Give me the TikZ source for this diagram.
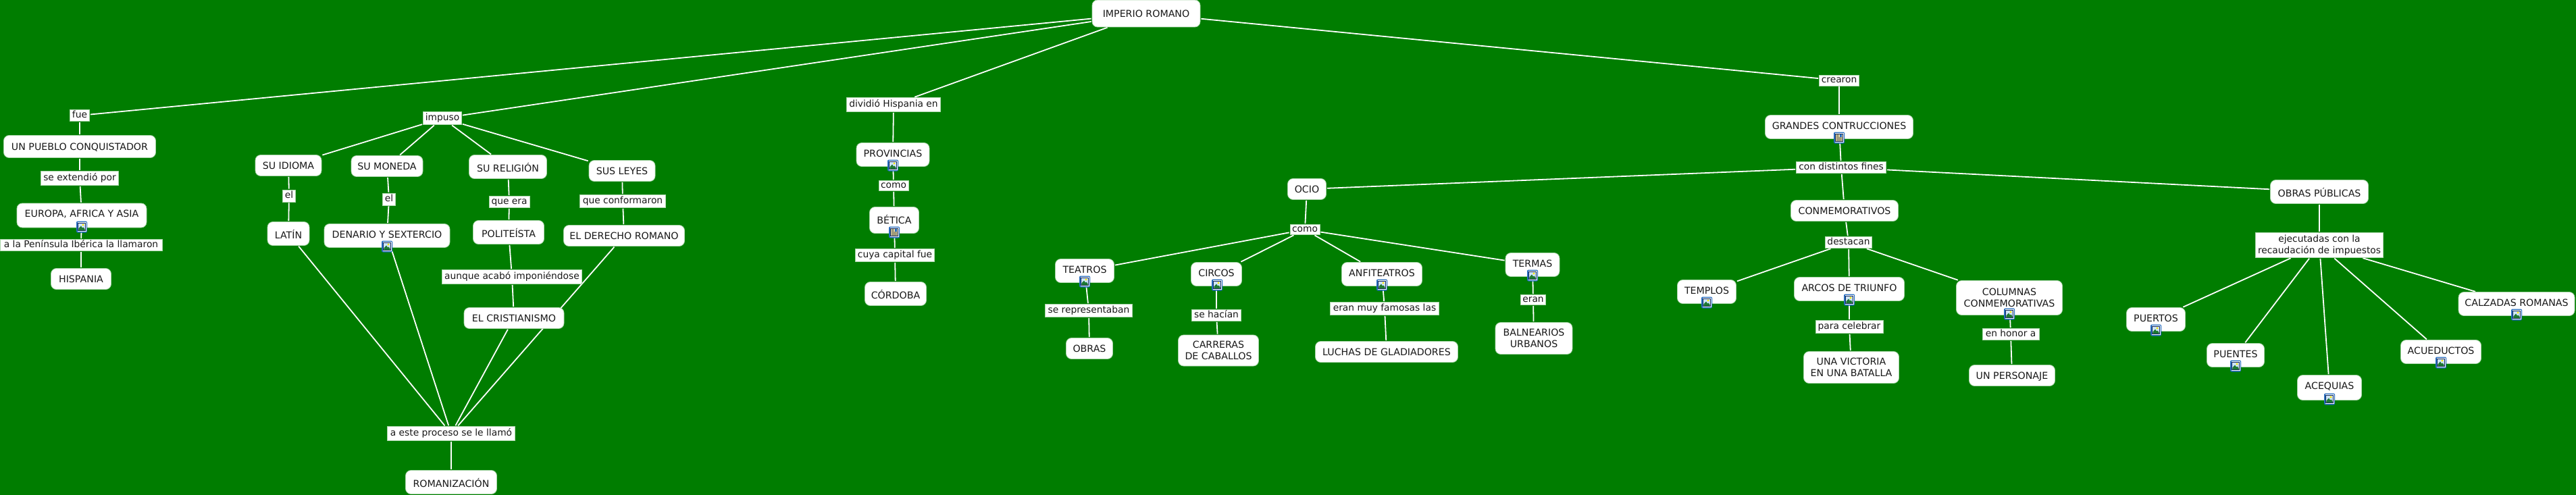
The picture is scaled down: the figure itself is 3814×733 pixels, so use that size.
\documentclass[tikz,border=0pt]{standalone}
\usepackage{fontspec}
\setmainfont{DejaVu Sans}
\usetikzlibrary{backgrounds}
\definecolor{mapgreen}{RGB}{0,125,0}
\definecolor{mapedge}{RGB}{170,214,170}
\definecolor{iconblue}{RGB}{38,108,190}
\definecolor{iconnavy}{RGB}{20,40,90}
\definecolor{iconsky}{RGB}{205,228,248}
\definecolor{iconhill}{RGB}{30,120,50}
\definecolor{iconpaper}{RGB}{250,240,190}
\tikzset{
	boxsize/.style 2 args={minimum width=#1pt,minimum height=#2pt},
	mapbox/.style={rectangle,rounded corners=8pt,fill=white,draw=mapedge,line width=0.8pt,inner sep=0pt,align=center,
		font=\fontsize{14.2}{17}\selectfont,text=black!90},
	concept/.style={mapbox,text height=10.4pt,text depth=0pt},
	iconbox/.style={concept,text depth=3pt},
	accentbox/.style={concept,text height=15.6pt},
	tworow/.style={mapbox},
	phrase/.style={rectangle,fill=white,draw=mapedge,line width=0.8pt,inner sep=0pt,align=center,
		font=\fontsize{13.8}{17}\selectfont,text=black!90,text height=10.4pt,text depth=2.6pt},
	phrasetwo/.style={rectangle,fill=white,draw=mapedge,line width=0.8pt,inner sep=0pt,align=center,
		font=\fontsize{13.8}{17}\selectfont,text=black!90},
	link/.style={draw=white,line width=1.8pt,shorten <=1pt,shorten >=1pt},
	pics/photoicon/.style={code={
		\fill[iconblue,rounded corners=2pt] (-8,-8.5) rectangle (8,8.5);
		\fill[white] (-6.5,-7) rectangle (6.5,7);
		\fill[iconsky,draw=iconnavy,line width=0.9pt] (-5.2,-5.7) rectangle (5.2,5.7);
		\fill[yellow!90!orange] (2,-3) circle (1.6pt);
		\fill[iconhill] (-4.7,5.2) -- (-4.7,2.5) -- (-1,-1.5) -- (1,1.5) -- (2.5,0.5) -- (4.7,3.5) -- (4.7,5.2) -- cycle;
	}},
	pics/papericon/.style={code={
		\fill[iconblue,rounded corners=2pt] (-8,-8.5) rectangle (8,8.5);
		\fill[white] (-6.5,-7) rectangle (6.5,7);
		\fill[iconpaper,draw=iconnavy,line width=0.9pt] (-5.2,-5.7) rectangle (5.2,5.7);
		\fill[iconblue] (0.5,-4.8) rectangle (4.4,-0.8);
		\fill[black] (-4.3,-4.4) rectangle (-0.5,-3.6) (-4.3,-2.4) rectangle (-0.5,-1.6) (-4.3,-0.4) rectangle (4.3,0.4) (-4.3,1.6) rectangle (4.3,2.4) (-4.3,3.6) rectangle (4.3,4.4);
	}}
}
\begin{document}
\begin{tikzpicture}[x=1pt,y=-1pt]
\useasboundingbox (0,0) rectangle (3814,733);

\node[concept,boxsize={160}{40}] (imperio) at (1697,20) {IMPERIO ROMANO};

\node[phrase,boxsize={29}{17}] (fue) at (118,171) {fue};
\node[concept,boxsize={225}{33}] (pueblo) at (118,217) {UN PUEBLO CONQUISTADOR};
\node[phrase,boxsize={115}{21}] (extendio) at (118,264) {se extendió por};
\node[iconbox,text depth=6pt,boxsize={192}{36}] (europa) at (121,319) {EUROPA, AFRICA Y ASIA};
\node[phrase,boxsize={240}{17}] (llamaron) at (120,363) {a la Península Ibérica la llamaron};
\node[concept,boxsize={89}{31}] (hispania) at (120,413) {HISPANIA};

\node[phrase,boxsize={57}{19}] (impuso) at (655,175) {impuso};
\node[concept,boxsize={98}{31}] (idioma) at (427,245) {SU IDIOMA};
\node[concept,boxsize={106}{31}] (moneda) at (573,246) {SU MONEDA};
\node[accentbox,boxsize={115}{35}] (religion) at (752,247) {SU RELIGIÓN};
\node[concept,boxsize={98}{31}] (leyes) at (921,253) {SUS LEYES};
\node[phrase,boxsize={19}{18}] (elidioma) at (428,290) {el};
\node[phrase,boxsize={19}{18}] (elmoneda) at (576,295) {el};
\node[phrase,boxsize={60}{17}] (queera) at (754,299) {que era};
\node[phrase,boxsize={127}{19}] (conformaron) at (922,298) {que conformaron};
\node[accentbox,boxsize={62}{35}] (latin) at (427,346) {LATÍN};
\node[iconbox,boxsize={186}{35}] (denario) at (573,349) {DENARIO Y SEXTERCIO};
\node[accentbox,boxsize={105}{35}] (politeista) at (753,344) {POLITEÍSTA};
\node[concept,boxsize={179}{31}] (derecho) at (924,349) {EL DERECHO ROMANO};
\node[phrase,boxsize={207}{21}] (aunque) at (758,410) {aunque acabó imponiéndose};
\node[concept,boxsize={148}{31}] (cristianismo) at (761,471) {EL CRISTIANISMO};
\node[phrase,boxsize={189}{21}] (proceso) at (668,642) {a este proceso se le llamó};
\node[accentbox,boxsize={135}{35}] (romanizacion) at (668,714) {ROMANIZACIÓN};

\node[phrase,boxsize={139}{21}] (dividio) at (1323,155) {dividió Hispania en};
\node[iconbox,boxsize={108}{35}] (provincias) at (1322,229) {PROVINCIAS};
\node[phrase,boxsize={44}{15}] (comobetica) at (1323,275) {como};
\node[concept,boxsize={73}{39}] (betica) at (1324,326) {BÉTICA};
\node[phrase,boxsize={117}{19}] (capital) at (1325,378) {cuya capital fue};
\node[accentbox,boxsize={91}{35}] (cordoba) at (1326,435) {CÓRDOBA};

\node[phrase,boxsize={59}{16}] (crearon) at (2723,119) {crearon};
\node[iconbox,boxsize={219}{35}] (grandes) at (2723,188) {GRANDES CONTRUCCIONES};
\node[phrase,boxsize={133}{17}] (fines) at (2726,248) {con distintos fines};

\node[concept,boxsize={57}{31}] (ocio) at (1935,280) {OCIO};
\node[phrase,boxsize={44}{15}] (comoocio) at (1932,340) {como};
\node[iconbox,boxsize={87}{35}] (teatros) at (1606,401) {TEATROS};
\node[iconbox,boxsize={75}{35}] (circos) at (1801,406) {CIRCOS};
\node[iconbox,boxsize={119}{35}] (anfiteatros) at (2046,406) {ANFITEATROS};
\node[iconbox,boxsize={80}{35}] (termas) at (2269,392) {TERMAS};
\node[phrase,boxsize={129}{19}] (representaban) at (1612,460) {se representaban};
\node[phrase,boxsize={73}{17}] (hacian) at (1801,467) {se hacían};
\node[phrase,boxsize={161}{19}] (famosas) at (2050,457) {eran muy famosas las};
\node[phrase,boxsize={37}{15}] (eran) at (2270,444) {eran};
\node[concept,boxsize={69}{31}] (obras) at (1613,516) {OBRAS};
\node[tworow,boxsize={119}{46}] (carreras) at (1804,519) {CARRERAS\\DE CABALLOS};
\node[concept,boxsize={211}{31}] (luchas) at (2053,521) {LUCHAS DE GLADIADORES};
\node[tworow,boxsize={114}{47}] (balnearios) at (2271,501) {BALNEARIOS\\URBANOS};

\node[concept,boxsize={159}{31}] (conmemorativos) at (2731,312) {CONMEMORATIVOS};
\node[phrase,boxsize={69}{17}] (destacan) at (2737,359) {destacan};
\node[iconbox,boxsize={87}{35}] (templos) at (2527,432) {TEMPLOS};
\node[iconbox,boxsize={163}{35}] (arcos) at (2738,428) {ARCOS DE TRIUNFO};
\node[tworow,boxsize={157}{51}] (columnas) at (2975,441) {COLUMNAS\\CONMEMORATIVAS};
\node[phrase,boxsize={100}{19}] (celebrar) at (2738,484) {para celebrar};
\node[phrase,boxsize={84}{17}] (honor) at (2977,495) {en honor a};
\node[tworow,boxsize={141}{47}] (victoria) at (2741,544) {UNA VICTORIA\\EN UNA BATALLA};
\node[concept,boxsize={127}{31}] (personaje) at (2979,556) {UN PERSONAJE};

\node[accentbox,boxsize={145}{35}] (publicas) at (3434,284) {OBRAS PÚBLICAS};
\node[phrasetwo,boxsize={189}{37}] (ejecutadas) at (3434,363) {ejecutadas con la\\recaudación de impuestos};
\node[iconbox,boxsize={87}{35}] (puertos) at (3192,473) {PUERTOS};
\node[iconbox,boxsize={85}{35}] (puentes) at (3310,526) {PUENTES};
\node[iconbox,text depth=6pt,boxsize={95}{37}] (acequias) at (3449,574) {ACEQUIAS};
\node[iconbox,boxsize={119}{35}] (acueductos) at (3614,521) {ACUEDUCTOS};
\node[iconbox,boxsize={172}{35}] (calzadas) at (3726,450) {CALZADAS ROMANAS};

\pic at (121,336) {photoicon};
\pic at (573,365) {photoicon};
\pic at (1322,245) {photoicon};
\pic at (1324,344) {papericon};
\pic at (1606,417) {photoicon};
\pic at (1802,422) {photoicon};
\pic at (2046,422) {photoicon};
\pic at (2269,408) {photoicon};
\pic at (2723,204) {papericon};
\pic at (2527,448) {photoicon};
\pic at (2738,444) {photoicon};
\pic at (2975,465) {photoicon};
\pic at (3192,489) {photoicon};
\pic at (3310,542) {photoicon};
\pic at (3449,591) {photoicon};
\pic at (3614,537) {photoicon};
\pic at (3726,466) {photoicon};

\begin{scope}[on background layer]
\fill[mapgreen] (0,0) rectangle (3814,733);

\draw[link] (imperio) -- (fue);
\draw[link] (fue) -- (pueblo);
\draw[link] (pueblo) -- (extendio);
\draw[link] (extendio) -- (europa);
\draw[link] (europa) -- (llamaron);
\draw[link] (llamaron) -- (hispania);

\draw[link] (imperio) -- (impuso);
\draw[link] (impuso) -- (idioma);
\draw[link] (impuso) -- (moneda);
\draw[link] (impuso) -- (religion);
\draw[link] (impuso) -- (leyes);
\draw[link] (idioma) -- (elidioma);
\draw[link] (elidioma) -- (latin);
\draw[link] (moneda) -- (elmoneda);
\draw[link] (elmoneda) -- (denario);
\draw[link] (religion) -- (queera);
\draw[link] (queera) -- (politeista);
\draw[link] (politeista) -- (aunque);
\draw[link] (aunque) -- (cristianismo);
\draw[link] (leyes) -- (conformaron);
\draw[link] (conformaron) -- (derecho);
\draw[link] (latin) -- (proceso);
\draw[link] (denario) -- (proceso);
\draw[link] (cristianismo) -- (proceso);
\draw[link] (derecho) -- (proceso);
\draw[link] (proceso) -- (romanizacion);

\draw[link] (imperio) -- (dividio);
\draw[link] (dividio) -- (provincias);
\draw[link] (provincias) -- (comobetica);
\draw[link] (comobetica) -- (betica);
\draw[link] (betica) -- (capital);
\draw[link] (capital) -- (cordoba);

\draw[link] (imperio) -- (crearon);
\draw[link] (crearon) -- (grandes);
\draw[link] (grandes) -- (fines);
\draw[link] (fines) -- (ocio);
\draw[link] (fines) -- (conmemorativos);
\draw[link] (fines) -- (publicas);

\draw[link] (ocio) -- (comoocio);
\draw[link] (comoocio) -- (teatros);
\draw[link] (comoocio) -- (circos);
\draw[link] (comoocio) -- (anfiteatros);
\draw[link] (comoocio) -- (termas);
\draw[link] (teatros) -- (representaban);
\draw[link] (representaban) -- (obras);
\draw[link] (circos) -- (hacian);
\draw[link] (hacian) -- (carreras);
\draw[link] (anfiteatros) -- (famosas);
\draw[link] (famosas) -- (luchas);
\draw[link] (termas) -- (eran);
\draw[link] (eran) -- (balnearios);

\draw[link] (conmemorativos) -- (destacan);
\draw[link] (destacan) -- (templos);
\draw[link] (destacan) -- (arcos);
\draw[link] (destacan) -- (columnas);
\draw[link] (arcos) -- (celebrar);
\draw[link] (celebrar) -- (victoria);
\draw[link] (columnas) -- (honor);
\draw[link] (honor) -- (personaje);

\draw[link] (publicas) -- (ejecutadas);
\draw[link] (ejecutadas) -- (puertos);
\draw[link] (ejecutadas) -- (puentes);
\draw[link] (ejecutadas) -- (acequias);
\draw[link] (ejecutadas) -- (acueductos);
\draw[link] (ejecutadas) -- (calzadas);
\end{scope}
\end{tikzpicture}
\end{document}
